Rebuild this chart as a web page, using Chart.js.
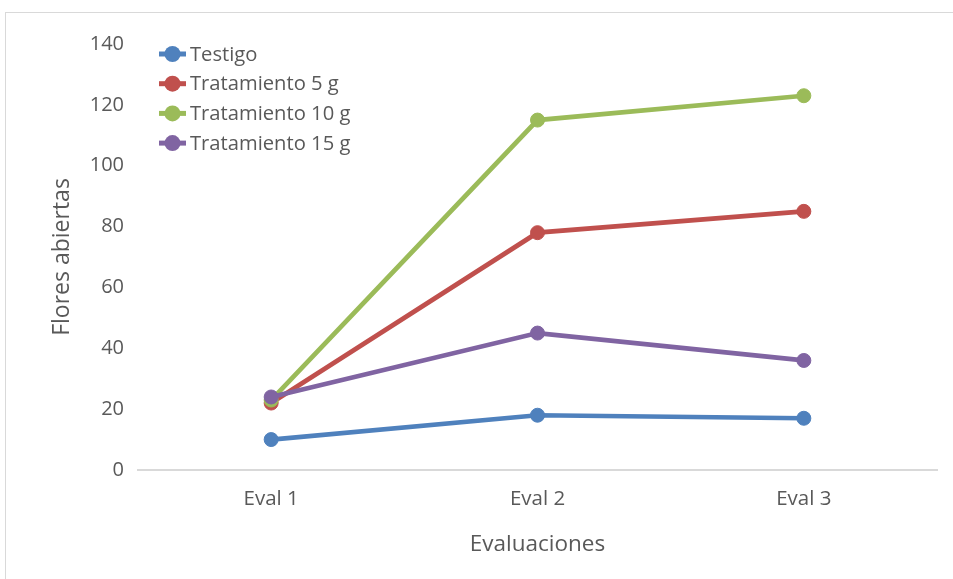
<!DOCTYPE html>
<html>
<head>
<meta charset="utf-8">
<script src="https://cdn.jsdelivr.net/npm/chart.js@4/dist/chart.umd.min.js"></script>
<style>
  html, body { margin: 0; padding: 0; background: #ffffff; overflow: hidden; }
  #frame { position: absolute; left: 5px; top: 12px; width: 1000px; height: 1000px; border: 1px solid #d9d9d9; }
  #wrap { position: absolute; left: 0; top: 0; width: 953px; height: 579px; }
</style>
</head>
<body>
<div id="frame"></div>
<div id="wrap"><canvas id="chart" width="953" height="579"></canvas></div>
<script>
// Evaluation rounds on the x axis
const evaluaciones = ['Eval 1', 'Eval 2', 'Eval 3'];

// Open flowers counted per treatment
const testigo = [10, 18, 17];
const tratamiento5 = [22, 78, 85];
const tratamiento10 = [23, 115, 123];
const tratamiento15 = [24, 45, 36];

const seriesNames = ['Testigo', 'Tratamiento 5 g', 'Tratamiento 10 g', 'Tratamiento 15 g'];
const seriesColors = ['#4f81bd', '#c0504d', '#9bbb59', '#8064a2'];
const seriesValues = [testigo, tratamiento5, tratamiento10, tratamiento15];

const fontFamily = '"Open Sans", Lato, sans-serif';
const textColor = '#595959';

// Legend drawn inside the plot, upper-left corner
const insideLegend = {
  id: 'insideLegend',
  afterDraw(chart) {
    const ctx = chart.ctx;
    ctx.save();
    chart.data.datasets.forEach((ds, i) => {
      const y = 54 + i * 29.7;
      ctx.strokeStyle = ds.borderColor;
      ctx.lineWidth = 5;
      ctx.beginPath();
      ctx.moveTo(159, y);
      ctx.lineTo(186, y);
      ctx.stroke();
      ctx.fillStyle = ds.borderColor;
      ctx.beginPath();
      ctx.arc(172.5, y, 8, 0, Math.PI * 2);
      ctx.fill();
      ctx.fillStyle = textColor;
      ctx.font = '20.2px ' + fontFamily;
      ctx.textBaseline = 'middle';
      ctx.textAlign = 'left';
      ctx.fillText(ds.label, 190, y + 1);
    });
    ctx.restore();
  }
};

const datasets = seriesNames.map((name, i) => ({
  label: name,
  data: seriesValues[i],
  borderColor: seriesColors[i],
  backgroundColor: seriesColors[i],
  pointBackgroundColor: seriesColors[i],
  pointBorderColor: seriesColors[i],
  borderWidth: 4.7,
  pointRadius: 7,
  pointBorderWidth: 1,
  tension: 0,
  order: seriesNames.length - i
}));

new Chart(document.getElementById('chart'), {
  type: 'line',
  data: { labels: evaluaciones, datasets: datasets },
  plugins: [insideLegend],
  options: {
    responsive: false,
    animation: false,
    layout: { padding: { left: 40, right: 16, top: 44, bottom: 0 } },
    plugins: { legend: { display: false }, tooltip: { enabled: false } },
    scales: {
      x: {
        offset: true,
        grid: { display: false, drawTicks: false },
        border: { display: true, color: '#d9d9d9', width: 2 },
        ticks: { color: textColor, font: { family: fontFamily, size: 20.5 }, padding: 17 },
        title: {
          display: true, text: 'Evaluaciones', color: textColor,
          font: { family: fontFamily, size: 22.5 }, padding: { top: 21, bottom: 21 }
        },
        afterFit(scale) { scale.height = 109; }
      },
      y: {
        min: 0, max: 140,
        grid: { display: false, drawTicks: false },
        border: { display: false },
        ticks: { stepSize: 20, color: textColor, font: { family: fontFamily, size: 20 }, padding: 14 },
        title: {
          display: true, text: 'Flores abiertas', color: textColor,
          font: { family: fontFamily, size: 23 }, padding: { top: 9, bottom: 9 }
        },
        afterFit(scale) { scale.width = 98; }
      }
    }
  }
});
</script>
</body>
</html>
